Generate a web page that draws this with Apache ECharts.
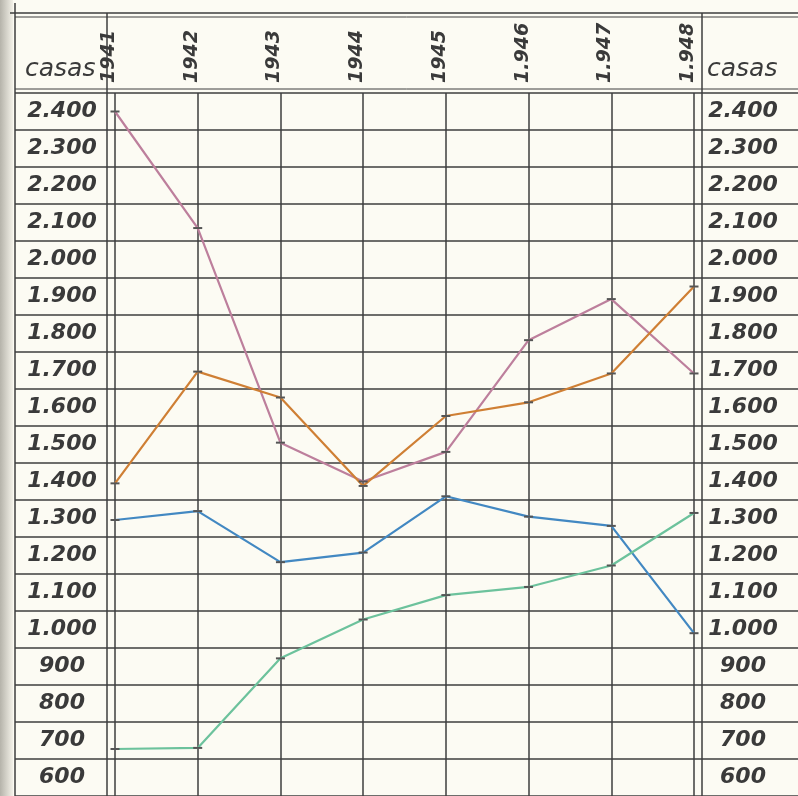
<!DOCTYPE html>
<html>
<head>
<meta charset="utf-8">
<script src="https://cdn.jsdelivr.net/npm/echarts@6/dist/echarts.min.js"></script>
<style>
html,body{margin:0;padding:0;background:#fcfbf3;}
#chart{width:798px;height:796px;}
</style>
</head>
<body>
<div id="chart"></div>
<script>
// ---- data ----
var years = ['1941', '1942', '1943', '1944', '1945', '1.946', '1.947', '1.948'];
var pinkSeries   = [2400, 2085, 1505, 1400, 1480, 1782, 1893, 1692];
var orangeSeries = [1395, 1697, 1627, 1388, 1577, 1614, 1692, 1927];
var blueSeries   = [1296, 1320, 1182, 1208, 1360, 1305, 1280, 990];
var greenSeries  = [677, 680, 922, 1027, 1093, 1115, 1173, 1315];
var yMin = 550, yMax = 2450;
var unitLabel = 'casas';

function fmt(v) {
  if (v % 100 !== 0) return '';
  if (v >= 1000) {
    var th = Math.floor(v / 1000), r = v % 1000;
    return th + '.' + (r < 10 ? '00' : r < 100 ? '0' : '') + r;
  }
  return String(v);
}

var chart = echarts.init(document.getElementById('chart'));
var ink = '#3e3e3e';
var labelFont = { fontFamily: 'DejaVu Sans', fontWeight: 'bold', fontStyle: 'italic', color: '#3a3a3a' };

function mkSeries(name, data, color) {
  return {
    name: name, type: 'line', data: data, xAxisIndex: 0, yAxisIndex: 0,
    symbol: 'rect', symbolSize: [9, 2],
    itemStyle: { color: '#555' },
    lineStyle: { color: color, width: 2.2 },
    z: 5, animation: false
  };
}

var option = {
  backgroundColor: '#fcfbf3',
  animation: false,
  grid: [
    { left: 115, right: 104, top: 93, height: 703 },
    { left: 15, right: 0, top: 93, height: 703 }
  ],
  xAxis: [
    {
      type: 'category', gridIndex: 0, data: years, boundaryGap: false, position: 'top',
      axisLine: { show: false }, axisTick: { show: false },
      axisLabel: Object.assign({ rotate: -90, margin: 10, fontSize: 19, interval: 0,
        verticalAlign: 'bottom', lineHeight: 12 }, labelFont),
      splitLine: { show: true, lineStyle: { color: ink, width: 1.5 } }
    },
    { type: 'value', gridIndex: 1, show: false, min: 0, max: 1 }
  ],
  yAxis: [
    {
      type: 'value', gridIndex: 0, position: 'left', min: yMin, max: yMax, interval: 50,
      axisLine: { show: false }, axisTick: { show: false }, splitLine: { show: false },
      axisLabel: Object.assign({ formatter: fmt, margin: 53, align: 'center', fontSize: 22 }, labelFont)
    },
    {
      type: 'value', gridIndex: 0, position: 'right', min: yMin, max: yMax, interval: 50,
      axisLine: { show: false }, axisTick: { show: false }, splitLine: { show: false },
      axisLabel: Object.assign({ formatter: fmt, margin: 49, align: 'center', fontSize: 22 }, labelFont)
    },
    {
      type: 'value', gridIndex: 1, min: yMin, max: yMax, interval: 100,
      axisLine: { show: false }, axisTick: { show: false }, axisLabel: { show: false },
      splitLine: { show: true, lineStyle: { color: ink, width: 1.5 } }
    }
  ],
  series: [
    mkSeries('pink', pinkSeries, '#bd7f9c'),
    mkSeries('orange', orangeSeries, '#cf7f34'),
    mkSeries('blue', blueSeries, '#4288c2'),
    mkSeries('green', greenSeries, '#6cc29c')
  ],
  graphic: [
    { type: 'rect', shape: { x: 0, y: 0, width: 13, height: 796 }, z: 0,
      style: { fill: new echarts.graphic.LinearGradient(0, 0, 1, 0, [{ offset: 0, color: '#b5b3aa' }, { offset: 1, color: '#f3f1e8' }]) } },
    { type: 'line', shape: { x1: 10, y1: 13, x2: 798, y2: 13 }, style: { stroke: ink, lineWidth: 1.5 }, z: 10 },
    { type: 'line', shape: { x1: 15, y1: 17, x2: 798, y2: 17 }, style: { stroke: ink, lineWidth: 1 }, z: 10 },
    { type: 'line', shape: { x1: 15, y1: 89, x2: 798, y2: 89 }, style: { stroke: ink, lineWidth: 1 }, z: 10 },
    { type: 'line', shape: { x1: 15, y1: 3, x2: 15, y2: 796 }, style: { stroke: ink, lineWidth: 1.5 }, z: 10 },
    { type: 'line', shape: { x1: 107, y1: 13, x2: 107, y2: 796 }, style: { stroke: ink, lineWidth: 1.5 }, z: 10 },
    { type: 'line', shape: { x1: 702, y1: 13, x2: 702, y2: 796 }, style: { stroke: ink, lineWidth: 1.5 }, z: 10 },
    { type: 'text', left: 25, top: 57, z: 10,
      style: { text: unitLabel, font: 'italic 25px "DejaVu Sans"', fill: '#3a3a3a' } },
    { type: 'text', left: 707, top: 57, z: 10,
      style: { text: unitLabel, font: 'italic 25px "DejaVu Sans"', fill: '#3a3a3a' } }
  ]
};
chart.setOption(option);
</script>
</body>
</html>
